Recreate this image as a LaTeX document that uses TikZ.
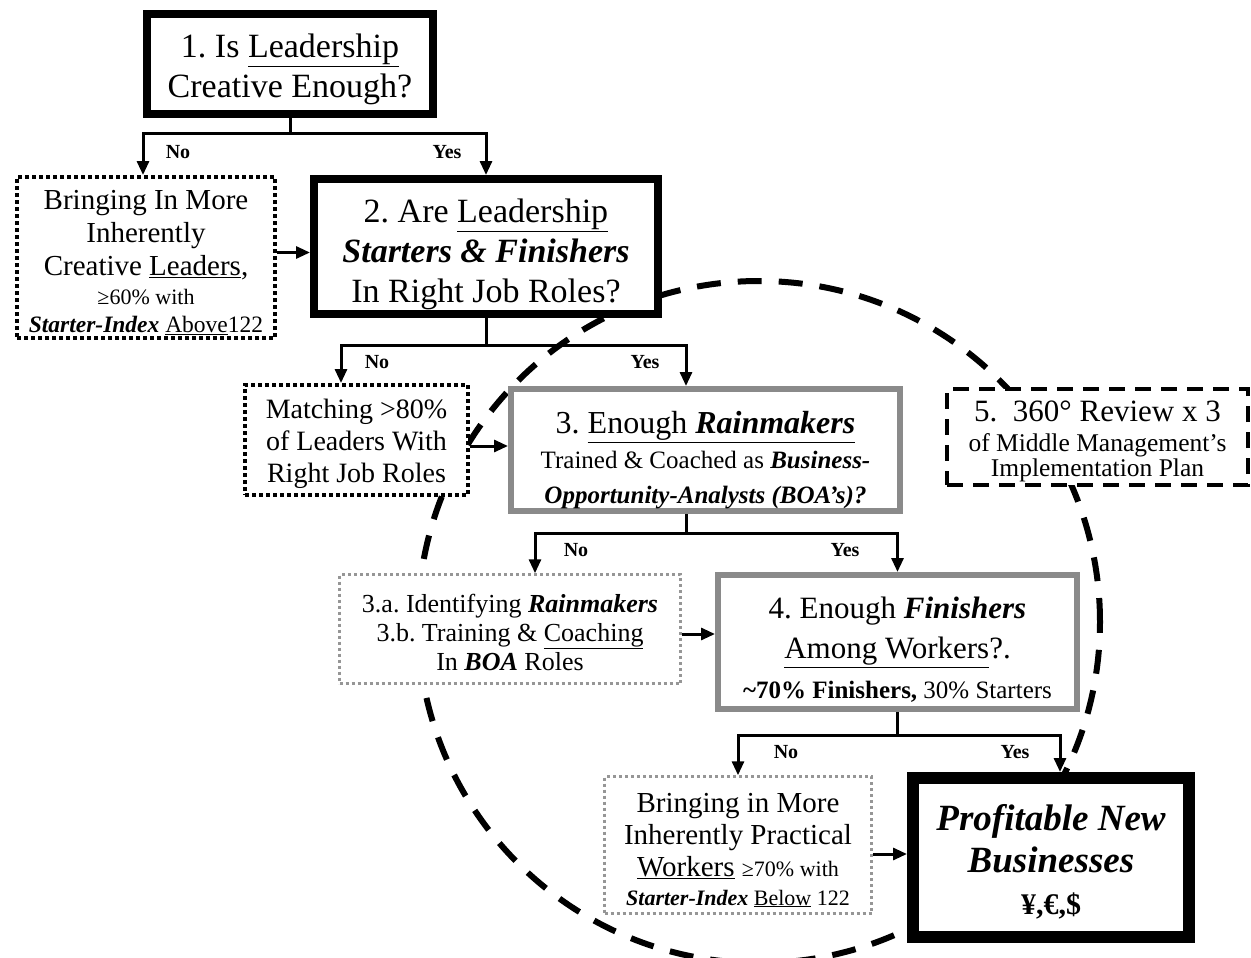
\documentclass[tikz,border=0pt]{standalone}
\usepackage{fontspec}
\setmainfont{Liberation Serif}
\usetikzlibrary{arrows.meta}
\definecolor{boxgray}{RGB}{138,138,138}
\definecolor{dotgray}{RGB}{150,150,150}
\newcommand{\fsz}[2]{\fontsize{#1pt}{#2pt}\selectfont}
\newcommand{\bi}[1]{\textbf{\textit{#1}}}
\frenchspacing
\begin{document}
\begin{tikzpicture}[x=1pt,y=-1pt,
  thickbox/.style={draw=black, line width=8pt, fill=white, inner sep=0pt},
  graybox/.style={draw=boxgray, line width=6pt, fill=white, inner sep=0pt},
  dotbox/.style={draw=black, line width=4pt, dash pattern=on 4pt off 3pt, fill=white, inner sep=0pt},
  graydot/.style={draw=dotgray, line width=2.5pt, dash pattern=on 3pt off 3pt, fill=white, inner sep=0pt},
  dashbox/.style={draw=black, line width=4pt, dash pattern=on 16pt off 10pt, fill=white, inner sep=0pt},
  finbox/.style={draw=black, line width=12pt, fill=white, inner sep=0pt},
  txt/.style={inner sep=0pt, align=center},
  circ/.style={line width=6pt, dash pattern=on 24pt off 17pt},
  conn/.style={line width=3pt},
  arr/.style={conn, -{Triangle[length=14pt,width=12pt]}},
  lbl/.style={font=\bfseries\fsz{20}{24}, inner sep=0pt}
]
\useasboundingbox (0,0) rectangle (1251,958);

% dashed circle (behind boxes)
\draw[circ] (759,622) circle[radius=341pt];

% decision boxes
\node[thickbox, minimum width=286pt, minimum height=100pt] (q1) at (290,64) {};
\node[txt, font=\fsz{34}{40}] (q1t) at ([yshift=-5pt]q1.center)
  {1. Is \underline{Leadership}\\Creative Enough?};

\node[thickbox, minimum width=344pt, minimum height=135pt] (q2) at (486,246.5) {};
\node[txt, font=\fsz{34}{40}] (q2t) at ([yshift=-8pt]q2.center)
  {2. Are \underline{Leadership}\\\bi{Starters \& Finishers}\\In Right Job Roles?};

\node[graybox, minimum width=389pt, minimum height=122pt] (q3) at (705.5,450) {};
\node[txt, font=\fsz{25}{35}] (q3t) at ([yshift=-10pt]q3.center)
  {{\fsz{32}{36}3. \underline{Enough \bi{Rainmakers}}}\\Trained \& Coached as \bi{Business-}\\\bi{Opportunity-Analysts (BOA’s)?}};

\node[graybox, minimum width=359pt, minimum height=134pt] (q4) at (897.5,642) {};
\node[txt, font=\fsz{25}{40}] (q4t) at ([yshift=-8pt]q4.center)
  {{\fsz{31}{40}4. Enough \bi{Finishers}}\\{\fsz{31}{40}\underline{Among Workers}?.}\\\textbf{\textasciitilde 70\% Finishers,} 30\% Starters};

% action boxes
\node[dotbox, minimum width=258pt, minimum height=161pt] (a1) at (146,257.5) {};
\node[txt, font=\fsz{29}{33}] (a1t) at ([yshift=-5pt]a1.center)
  {Bringing In More\\Inherently\\Creative \underline{Leaders},\\[-4pt]{\fsz{22}{28}≥60\% with}\\[-5pt]{\fsz{23.5}{28}\bi{Starter-Index} \underline{Above}122}};

\node[dotbox, minimum width=223pt, minimum height=110pt] (a2) at (356.5,440) {};
\node[txt, font=\fsz{28}{32}] (a2t) at ([yshift=-4pt]a2.center)
  {Matching >80\%\\of Leaders With\\Right Job Roles};

\node[graydot, minimum width=341pt, minimum height=109pt] (a3) at (510,629) {};
\node[txt, font=\fsz{26}{29}] (a3t) at ([yshift=-3pt]a3.center)
  {3.a. Identifying \bi{Rainmakers}\\3.b. Training \& \underline{Coaching}\\In \bi{BOA} Roles};

\node[graydot, minimum width=267pt, minimum height=137pt] (a4) at (738,845) {};
\node[txt, font=\fsz{29}{32}] (a4t) at ([yshift=-5pt]a4.center)
  {Bringing in More\\Inherently Practical\\\underline{Workers} {\fsz{22}{31}≥70\% with}\\[-3pt]{\fsz{22}{29}\bi{Starter-Index} \underline{Below} 122}};

% outcome
\node[finbox, minimum width=276pt, minimum height=159pt] (fin) at (1051,857.5) {};
\node[txt, font=\bfseries\itshape\fsz{37}{42}] (fint) at ([yshift=-4pt]fin.center)
  {Profitable New\\Businesses\\{\upshape\fsz{30}{40}¥,€,\$}};

% review box
\node[dashbox, minimum width=301pt, minimum height=96pt] (r5) at (1097.5,437) {};
\node[txt, font=\fsz{25.5}{25}] (r5t) at ([yshift=-4pt]r5.center)
  {{\fsz{31}{31}5.\ \ 360° Review x 3}\\[5pt]of Middle Management’s\\Implementation Plan};

% branch 1
\draw[conn] (q1.south) -- ++(0,15) coordinate (j1);
\draw[arr] (j1) -| ([xshift=-3pt]a1.north);
\draw[arr] (j1) -| (q2.north);
\node[lbl] (n1) at (178,152) {No};
\node[lbl] (y1) at (447,152) {Yes};

% branch 2
\draw[conn] (q2.south) -- ++(0,27) coordinate (j2);
\draw[arr] (j2) -| ([xshift=-15.5pt]a2.north);
\draw[arr] (j2) -| ([xshift=-19.5pt]q3.north);
\node[lbl] (n2) at (377,362) {No};
\node[lbl] (y2) at (645,362) {Yes};

% branch 3
\draw[conn] ([xshift=-19.5pt]q3.south) -- ++(0,19) coordinate (j3);
\draw[arr] (j3) -| ([xshift=25pt]a3.north);
\draw[arr] (j3) -| (q4.north);
\node[lbl] (n3) at (576,550) {No};
\node[lbl] (y3) at (845,550) {Yes};

% branch 4
\draw[conn] (q4.south) -- ++(0,23) coordinate (j4);
\draw[arr] (j4) -| (a4.north);
\draw[arr] (j4) -| ([xshift=9pt]fin.north);
\node[lbl] (n4) at (786,752) {No};
\node[lbl] (y4) at (1015,752) {Yes};

% horizontal arrows
\draw[arr] ([yshift=5pt]a1.east) -- ([yshift=5pt]a1.east -| q2.west);
\draw[arr] ([yshift=-6pt]a2.east) -- ([yshift=-6pt]a2.east -| q3.west);
\draw[arr] ([yshift=-5pt]a3.east) -- ([yshift=-5pt]a3.east -| q4.west);
\draw[arr] ([yshift=-9pt]a4.east) -- ([yshift=-9pt]a4.east -| fin.west);
\end{tikzpicture}
\end{document}
